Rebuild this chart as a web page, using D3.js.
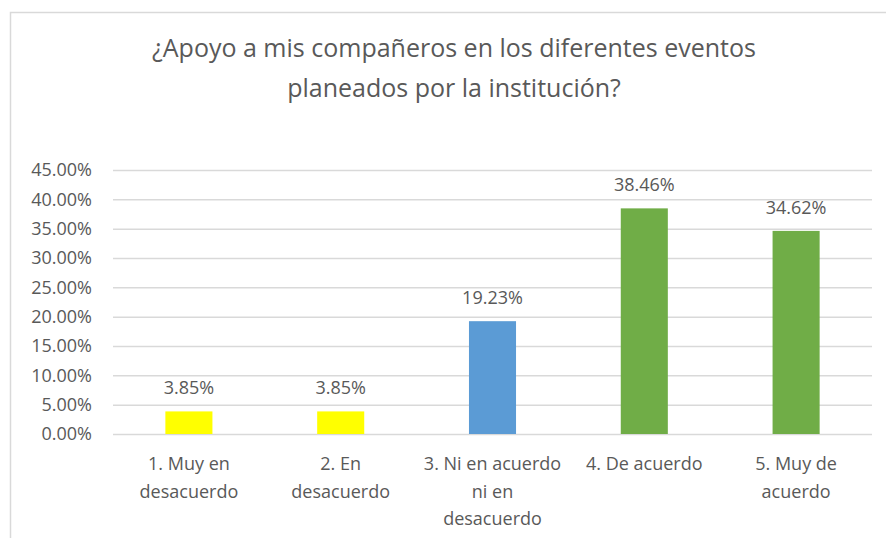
<!DOCTYPE html>
<html>
<head>
<meta charset="utf-8">
<script src="https://cdn.jsdelivr.net/npm/d3@7"></script>
<style>
  body { margin: 0; background: #fff; }
  svg { display: block; font-family: "Open Sans", Lato, sans-serif; }
</style>
</head>
<body>
<div id="chart"></div>
<script>
const categories = [
    ["1. Muy en", "desacuerdo"],
    ["2. En", "desacuerdo"],
    ["3. Ni en acuerdo", "ni en", "desacuerdo"],
    ["4. De acuerdo"],
    ["5. Muy de", "acuerdo"]
];
const values = [3.85, 3.85, 19.23, 38.46, 34.62];
const barColors = ["#ffff00", "#ffff00", "#5b9bd5", "#70ad47", "#70ad47"];
const yTicks = [0, 5, 10, 15, 20, 25, 30, 35, 40, 45];
const titleLines = ["¿Apoyo a mis compañeros en los diferentes eventos", "planeados por la institución?"];

const width = 886, height = 538;
const margin = { top: 170, right: 14, bottom: 104, left: 113 };
const textColor = "#595959";

const svg = d3.select("#chart").append("svg")
    .attr("width", width)
    .attr("height", height);

// marco del gráfico (solo se ven arriba e izquierda)
svg.append("rect")
    .attr("x", 10.5).attr("y", 12.5)
    .attr("width", width + 20).attr("height", height + 20)
    .attr("fill", "none")
    .attr("stroke", "#d9d9d9")
    .attr("stroke-width", 1.5);

svg.append("g").selectAll("text")
    .data(titleLines)
    .enter().append("text")
    .attr("x", 454)
    .attr("y", (d, i) => 57 + i * 40)
    .attr("text-anchor", "middle")
    .attr("fill", textColor)
    .attr("font-size", "25px")
    .text(d => d);

const x = d3.scaleBand()
    .domain(d3.range(categories.length))
    .range([margin.left, width - margin.right]);

const y = d3.scaleLinear()
    .domain([0, 45])
    .range([height - margin.bottom, margin.top]);

// grilla horizontal
const yAxis = svg.append("g")
    .attr("transform", `translate(${margin.left},0)`)
    .call(d3.axisLeft(y)
        .tickValues(yTicks)
        .tickFormat(d => d.toFixed(2) + "%")
        .tickSize(-(width - margin.left - margin.right))
        .tickPadding(21));

yAxis.select(".domain").remove();
yAxis.selectAll("line").attr("stroke", "#d9d9d9").attr("stroke-width", 1.5);
yAxis.selectAll("text")
    .attr("fill", textColor)
    .attr("font-size", "18px")
    .attr("font-family", "'Open Sans', sans-serif");

const barW = x.bandwidth() * 0.31;

svg.append("g").selectAll("rect")
    .data(values)
    .enter().append("rect")
    .attr("x", (d, i) => x(i) + (x.bandwidth() - barW) / 2)
    .attr("y", d => y(d))
    .attr("width", barW)
    .attr("height", d => y(0) - y(d))
    .attr("fill", (d, i) => barColors[i]);

svg.append("g").selectAll("text")
    .data(values)
    .enter().append("text")
    .attr("x", (d, i) => x(i) + x.bandwidth() / 2)
    .attr("y", d => y(d) - 17)
    .attr("text-anchor", "middle")
    .attr("fill", textColor)
    .attr("font-size", "18px")
    .text(d => d.toFixed(2) + "%");

// etiquetas de categoría
const catLabels = svg.append("g").selectAll("text")
    .data(categories)
    .enter().append("text")
    .attr("x", (d, i) => x(i) + x.bandwidth() / 2)
    .attr("y", 470)
    .attr("text-anchor", "middle")
    .attr("fill", textColor)
    .attr("font-size", "18px");

catLabels.selectAll("tspan")
    .data(d => d)
    .enter().append("tspan")
    .attr("x", function () { return d3.select(this.parentNode).attr("x"); })
    .attr("dy", (d, i) => i === 0 ? 0 : 27.5)
    .text(d => d);
</script>
</body>
</html>
